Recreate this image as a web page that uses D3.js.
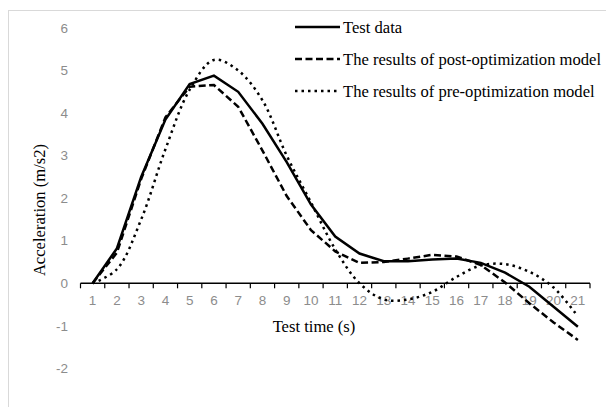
<!DOCTYPE html>
<html>
<head>
<meta charset="utf-8">
<script src="https://cdn.jsdelivr.net/npm/d3@7"></script>
<style>
  body { margin: 0; background: #fff; }
  svg { display: block; }
</style>
</head>
<body>
<svg id="chart" width="606" height="407"></svg>
<script>
// values
var times = [1, 2, 3, 4, 5, 6, 7, 8, 9, 10, 11, 12, 13, 14, 15, 16, 17, 18, 19, 20, 21];
var testData = [0, 0.82, 2.5, 3.85, 4.68, 4.88, 4.5, 3.75, 2.85, 1.85, 1.1, 0.7, 0.52, 0.52, 0.56, 0.58, 0.48, 0.25, -0.08, -0.55, -1.02];
var postModel = [0, 0.72, 2.45, 3.9, 4.62, 4.66, 4.15, 3.12, 2.05, 1.25, 0.75, 0.48, 0.5, 0.58, 0.67, 0.63, 0.43, 0.02, -0.47, -0.92, -1.33];
var preModel = [0, 0.33, 1.5, 3.15, 4.55, 5.25, 5.0, 4.3, 3.0, 1.9, 0.8, 0.0, -0.38, -0.38, -0.2, 0.15, 0.42, 0.45, 0.27, -0.1, -0.78];
var yTicks = [-2, -1, 0, 1, 2, 3, 4, 5, 6];
var seriesNames = ["Test data", "The results of post-optimization model", "The results of pre-optimization model"];

var svg = d3.select("#chart");
var serif = "Liberation Serif, Times New Roman, serif";

// light frame round the chart area
svg.append("rect")
    .attr("x", 8.5).attr("y", 10.5)
    .attr("width", 700).attr("height", 500)
    .attr("fill", "none")
    .attr("stroke", "#d9d9d9");

var x = d3.scaleBand().domain(times).range([80.5, 590]);
var y = d3.scaleLinear().domain([-2, 6]).range([368.4, 28]);

// y tick labels (no axis line)
svg.append("g").selectAll("text")
    .data(yTicks)
    .enter()
    .append("text")
    .attr("x", 68)
    .attr("y", function (d) { return y(d); })
    .attr("dy", "0.35em")
    .attr("text-anchor", "end")
    .attr("fill", "#8c8c8c")
    .attr("font-family", "Liberation Sans, Arial, sans-serif")
    .attr("font-size", "13.5px")
    .text(function (d) { return d; });

// x axis at zero, ticks between categories
var xAxis = svg.append("g");
xAxis.append("line")
    .attr("x1", x.range()[0]).attr("x2", x.range()[1])
    .attr("y1", y(0)).attr("y2", y(0))
    .attr("stroke", "#000").attr("stroke-width", 1.5);
var bounds = times.map(function (d) { return x(d); }).concat([x.range()[1]]);
xAxis.selectAll("line.tick")
    .data(bounds)
    .enter()
    .append("line")
    .attr("class", "tick")
    .attr("x1", function (d) { return d; }).attr("x2", function (d) { return d; })
    .attr("y1", y(0)).attr("y2", y(0) + 5)
    .attr("stroke", "#000").attr("stroke-width", 1.2);
xAxis.selectAll("text")
    .data(times)
    .enter()
    .append("text")
    .attr("x", function (d) { return x(d) + x.bandwidth() / 2; })
    .attr("y", 305)
    .attr("text-anchor", "middle")
    .attr("fill", "#8c8c8c")
    .attr("font-family", "Liberation Sans, Arial, sans-serif")
    .attr("font-size", "13.5px")
    .text(function (d) { return d; });

// axis titles
svg.append("text")
    .attr("transform", "translate(45,210) rotate(-90)")
    .attr("text-anchor", "middle")
    .attr("font-family", serif)
    .attr("font-size", "16.6px")
    .text("Acceleration (m/s2)");
svg.append("text")
    .attr("x", 314).attr("y", 332)
    .attr("text-anchor", "middle")
    .attr("font-family", serif)
    .attr("font-size", "16.6px")
    .text("Test time (s)");

var styles = [
    { dash: null, curve: d3.curveLinear },
    { dash: "7,3.5", curve: d3.curveLinear },
    { dash: "2.5,4", curve: d3.curveCatmullRom }
];
var allSeries = [testData, postModel, preModel];

allSeries.forEach(function (vals, i) {
    var line = d3.line()
        .x(function (d, j) { return x(times[j]) + x.bandwidth() / 2; })
        .y(function (d) { return y(d); })
        .curve(styles[i].curve);
    svg.append("path")
        .datum(vals)
        .attr("d", line)
        .attr("fill", "none")
        .attr("stroke", "#000")
        .attr("stroke-width", 2.5)
        .attr("stroke-dasharray", styles[i].dash);
});

// legend
var legend = svg.append("g");
seriesNames.forEach(function (name, i) {
    var ly = 27 + i * 32;
    legend.append("line")
        .attr("x1", 295).attr("x2", 340)
        .attr("y1", ly).attr("y2", ly)
        .attr("stroke", "#000")
        .attr("stroke-width", 2.5)
        .attr("stroke-dasharray", styles[i].dash);
    legend.append("text")
        .attr("x", 343).attr("y", ly + 5.5)
        .attr("font-family", serif)
        .attr("font-size", "16.6px")
        .text(name);
});
</script>
</body>
</html>
